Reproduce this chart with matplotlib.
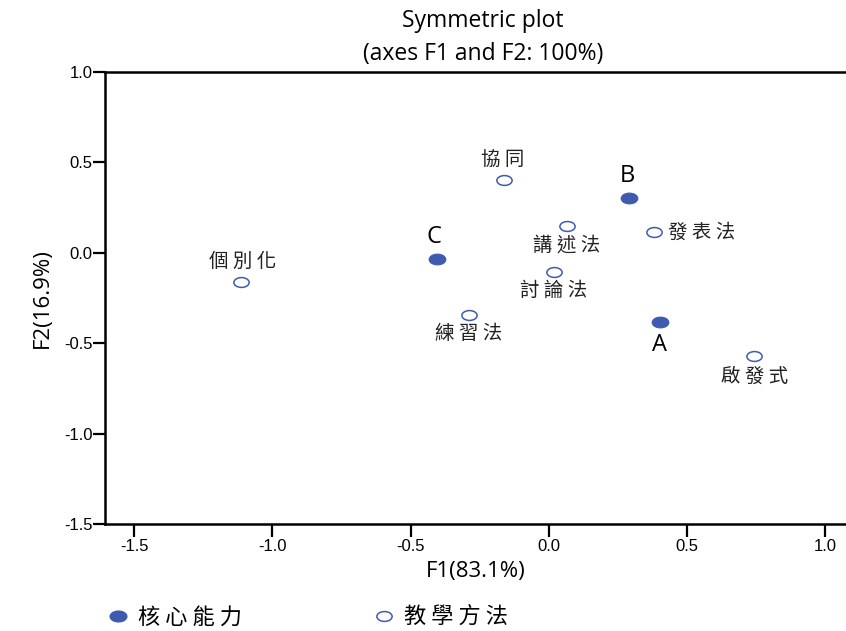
import numpy as np
import matplotlib
matplotlib.use("Agg")
import matplotlib.pyplot as plt
from matplotlib.path import Path
from matplotlib.transforms import Affine2D
from matplotlib.lines import Line2D

# core competencies (filled) and teaching methods (hollow)
core_labels = ["A", "B", "C"]
core_x = [0.402, 0.290, -0.406]
core_y = [-0.381, 0.304, -0.033]

method_labels = ["協同", "講述法", "發表法", "個別化", "討論法", "練習法", "啟發式"]
method_x = [-0.163, 0.065, 0.380, -1.112, 0.018, -0.290, 0.743]
method_y = [0.403, 0.149, 0.116, -0.160, -0.105, -0.343, -0.569]

x_ticks = [-1.5, -1.0, -0.5, 0.0, 0.5, 1.0]
y_ticks = [-1.5, -1.0, -0.5, 0.0, 0.5, 1.0]

BLUE = "#3f5bb0"
CJK = ["Noto Sans CJK TC", "DejaVu Sans"]
LATIN = ["Open Sans", "DejaVu Sans"]

# where to put each label: (dx, dy) in points, ha, va
core_pos = {"A": (0, -8, "center", "top"), "B": (-1, 7, "center", "bottom"),
            "C": (-2, 7, "center", "bottom")}
method_pos = {"協同": (-1, 7, "center", "bottom"), "講述法": (0, -6, "center", "top"),
              "發表法": (10, 0, "left", "center"), "個別化": (1, 7, "center", "bottom"),
              "討論法": (0, -6, "center", "top"), "練習法": (0, -6, "center", "top"),
              "啟發式": (0, -7, "center", "top")}


def spaced(s):
  # original text is spread out, mimic with spaces between glyphs
  return " ".join(s)


# slightly wide ellipse for the markers
ellipse = Path.unit_circle().transformed(Affine2D().scale(1.55, 1.0))

fig = plt.figure(figsize=(8.46, 6.31), dpi=100, facecolor="w")
ax = fig.add_axes([105 / 846, 1 - 524 / 631, 1 - 105 / 846, (524 - 72) / 631])

ax.plot(core_x, core_y, linestyle="none", marker=ellipse, markersize=12,
        markerfacecolor=BLUE, markeredgecolor=BLUE, markeredgewidth=0.8)
ax.plot(method_x, method_y, linestyle="none", marker=ellipse, markersize=11,
        markerfacecolor="white", markeredgecolor=BLUE, markeredgewidth=1.1)

for lab, x, y in zip(core_labels, core_x, core_y):
  dx, dy, ha, va = core_pos[lab]
  ax.annotate(lab, (x, y), xytext=(dx, dy), textcoords="offset points",
              ha=ha, va=va, fontsize=17, family=LATIN, color="black")

for lab, x, y in zip(method_labels, method_x, method_y):
  dx, dy, ha, va = method_pos[lab]
  ax.annotate(spaced(lab), (x, y), xytext=(dx, dy), textcoords="offset points",
              ha=ha, va=va, fontsize=14, family=CJK, color="#222222")

ax.set_xlim(-1.605, 1.075)
ax.set_ylim(-1.5, 1.0)
ax.set_xticks(x_ticks)
ax.set_yticks(y_ticks)
ax.set_xticklabels([f"{v:.1f}" for v in x_ticks], family="Liberation Sans", fontsize=12)
ax.set_yticklabels([f"{v:.1f}" for v in y_ticks], family="Liberation Sans", fontsize=12)
ax.tick_params(axis="x", length=9, width=1.6, pad=2, direction="out")
ax.tick_params(axis="y", length=9, width=1.6, pad=0, direction="out")

for side in ["left", "bottom", "top"]:
  ax.spines[side].set_linewidth(1.8)
ax.spines["right"].set_visible(False)

ax.set_xlabel("F1(83.1%)", family=LATIN, fontsize=16, labelpad=5)
ax.set_ylabel("F2(16.9%)", family=LATIN, fontsize=16, labelpad=8)
ax.set_title("Symmetric plot\n(axes F1 and F2: 100%)", family=LATIN, fontsize=16.5,
             linespacing=1.45, pad=9, x=0.51)

handles = [
  Line2D([], [], linestyle="none", marker=ellipse, markersize=12,
         markerfacecolor=BLUE, markeredgecolor=BLUE),
  Line2D([], [], linestyle="none", marker=ellipse, markersize=11,
         markerfacecolor="white", markeredgecolor=BLUE, markeredgewidth=1.1),
]
fig.legend(handles, [spaced("核心能力"), spaced("教學方法")], loc="center left",
           bbox_to_anchor=(0.105, 0.022), ncol=2, frameon=False,
           prop={"family": CJK, "size": 16}, handlelength=0.8, handletextpad=0.5,
           columnspacing=6.0)

fig.savefig("out.png", dpi=100)
